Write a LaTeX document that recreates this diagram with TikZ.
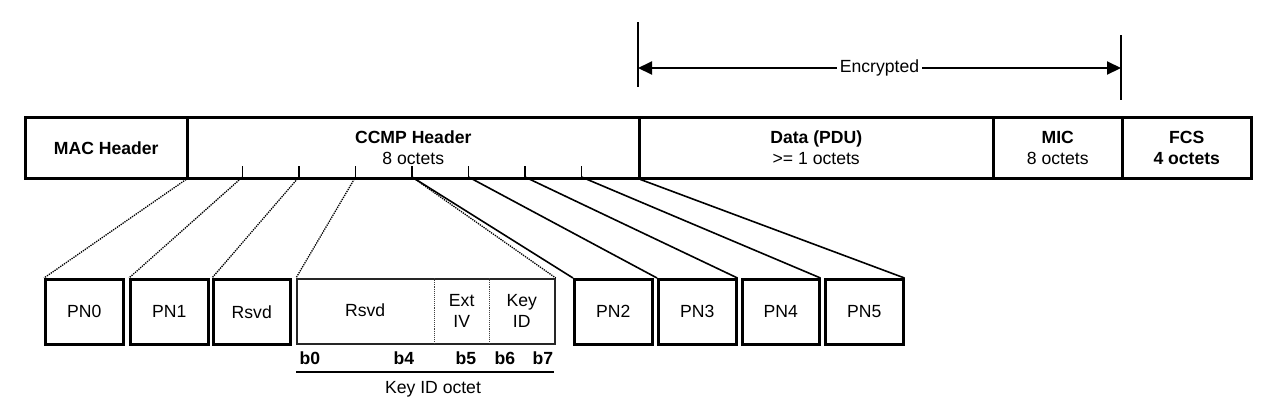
\documentclass[tikz,border=0pt]{standalone}
\usepackage{fontspec}
\setmainfont{Liberation Sans}
\usetikzlibrary{arrows.meta}
\begin{document}
\begin{tikzpicture}[x=1pt,y=-1pt,
  every node/.style={font=\fontsize{17.6}{21}\selectfont, inner sep=0pt, align=center},
  field/.style={draw, line width=2.5pt, minimum height=61pt, anchor=north west},
  pnbox/.style={draw, line width=2.5pt, minimum height=65pt, minimum width=78pt, anchor=north west},
  subbox/.style={minimum height=65pt, anchor=north west},
  keyframe/.style={draw=black!85, line width=1.8pt, minimum height=65pt, anchor=north west},
  tickline/.style={line width=1.5pt},
  conn/.style={line width=1.6pt},
  dotconn/.style={line width=1.3pt, densely dotted},
  divline/.style={line width=1.1pt, black!75, densely dotted},
  vline/.style={line width=2pt},
  arr/.style={line width=2pt, {Triangle[length=14pt,width=13pt]}-{Triangle[length=14pt,width=13pt]}},
  bit/.style={font=\fontsize{17.6}{21}\selectfont\bfseries}
]
\useasboundingbox (0,0) rectangle (1282,416);

% top bar
\node[field, minimum width=162pt] (mac) at (24,116) {\textbf{MAC Header}};
\node[field, minimum width=452pt] (ccmp) at (186,116) {\textbf{CCMP Header}\\8 octets};
\node[field, minimum width=354pt] (data) at (638,116) {\textbf{Data (PDU)}\\>= 1 octets};
\node[field, minimum width=129pt] (mic) at (992,116) {\textbf{MIC}\\8 octets};
\node[field, minimum width=129pt] (fcs) at (1121,116) {\textbf{FCS}\\\textbf{4 octets}};

% ticks
\foreach \k in {1,...,7}{
  \coordinate (t\k) at (186+56.5*\k,177);
  \draw[tickline] (t\k) -- ++(0,-11);
}

% encrypted
\coordinate (ea) at (638,22);
\coordinate (eb) at (638,87);
\coordinate (ec) at (1121,35);
\coordinate (ed) at (1121,100);
\coordinate (el) at (638,68);
\coordinate (er) at (1121,68);
\draw[vline] (ea) -- (eb);
\draw[vline] (ec) -- (ed);
\draw[arr] (el) -- node[fill=white, inner xsep=3pt, inner ysep=2pt] (enc) {Encrypted} (er);

% lower boxes
\node[pnbox] (pn0) at (44,278) {PN0};
\node[pnbox] (pn1) at (129,278) {PN1};
\node[pnbox, minimum width=77pt] (rs) at (212,278) {Rsvd};
\node[subbox, minimum width=138pt] (kr) at (296,278) {Rsvd};
\node[subbox, minimum width=55pt] (ke) at (434,278) {Ext\\IV};
\node[subbox, minimum width=65pt] (kk) at (489,278) {Key\\ID};
\node[keyframe, minimum width=258pt] (kb) at (296,278) {};
\draw[divline] (kr.north east) -- (kr.south east);
\draw[divline] (ke.north east) -- (ke.south east);
\node[pnbox] (pn2) at (573,278) {PN2};
\node[pnbox] (pn3) at (657,278) {PN3};
\node[pnbox, minimum width=77pt] (pn4) at (741,278) {PN4};
\node[pnbox] (pn5) at (824,278) {PN5};

% bits
\node[bit] (b0) at (310,358) {b0};
\node[bit] (b4) at (404,358) {b4};
\node[bit] (b5) at (466,358) {b5};
\node[bit] (b6) at (505,358) {b6};
\node[bit] (b7) at (543,358) {b7};
\coordinate (ul) at (296,372);
\coordinate (ur) at (554,372);
\draw[line width=2pt] (ul) -- (ur);
\node (kio) at (433,389) {Key ID octet};

% connectors
\draw[dotconn] (ccmp.south west) -- (pn0.north west);
\draw[dotconn] (t1) -- (pn1.north west);
\draw[dotconn] (t2) -- (rs.north west);
\draw[dotconn] (t3) -- (kb.north west);
\draw[dotconn] (t4) -- (kb.north east);
\draw[conn] (t4) -- (pn2.north west);
\draw[conn] (t5) -- (pn3.north west);
\draw[conn] (t6) -- (pn3.north east);
\draw[conn] (t7) -- (pn4.north east);
\draw[conn] (ccmp.south east) -- (pn5.north east);
\end{tikzpicture}
\end{document}
